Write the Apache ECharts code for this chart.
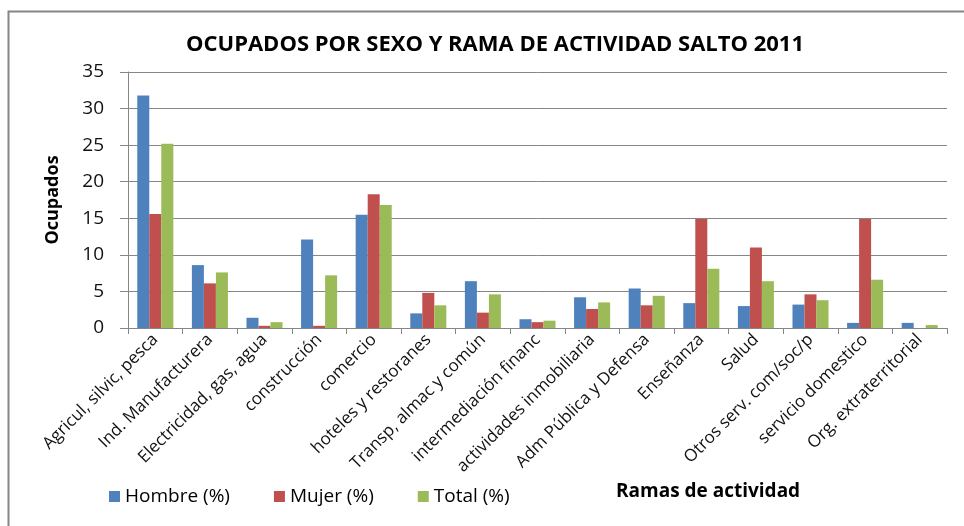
<!DOCTYPE html>
<html>
<head>
<meta charset="utf-8">
<script src="https://cdn.jsdelivr.net/npm/echarts@6/dist/echarts.min.js"></script>
<style>
  html, body { margin: 0; padding: 0; background: #fff; }
  #main { width: 964px; height: 526px; }
</style>
</head>
<body>
<div id="main"></div>
<script>
const categories = [
  'Agricul, silvic, pesca',
  'Ind. Manufacturera',
  'Electricidad, gas, agua',
  'construcción',
  'comercio',
  'hoteles y restoranes',
  'Transp, almac y común',
  'intermediación financ',
  'actividades inmobiliaria',
  'Adm Pública y Defensa',
  'Enseñanza',
  'Salud',
  'Otros serv. com/soc/p',
  'servicio domestico',
  'Org. extraterritorial'
]
const hombre = [31.8, 8.6, 1.4, 12.1, 15.5, 2.0, 6.4, 1.2, 4.2, 5.4, 3.4, 3.0, 3.2, 0.7, 0.7]
const mujer = [15.6, 6.1, 0.3, 0.3, 18.3, 4.8, 2.1, 0.8, 2.6, 3.1, 14.9, 11.0, 4.6, 14.9, 0]
const total = [25.2, 7.6, 0.8, 7.2, 16.8, 3.1, 4.6, 1.0, 3.5, 4.4, 8.1, 6.4, 3.8, 6.6, 0.4]
const yTicks = [0, 5, 10, 15, 20, 25, 30, 35]

let chart = echarts.init(document.getElementById('main'), null, { renderer: 'canvas' })

let font = 'Open Sans, Noto Sans, sans-serif'

let option = {
  backgroundColor: '#fff',
  animation: false,
  color: ['#4F81BD', '#C0504D', '#9BBB59'],
  title: {
    text: 'OCUPADOS POR SEXO Y RAMA DE ACTIVIDAD SALTO 2011',
    left: 490,
    textAlign: 'center',
    top: 29,
    textStyle: { fontFamily: font, fontSize: 22, fontWeight: 'bold', color: '#000' }
  },
  legend: {
    data: ['Hombre (%)', 'Mujer (%)', 'Total (%)'],
    left: 104,
    top: 482,
    icon: 'rect',
    itemWidth: 11,
    itemHeight: 11,
    itemGap: 44,
    textStyle: { fontFamily: font, fontSize: 19, color: '#000' }
  },
  graphic: [
    {
      type: 'rect',
      shape: { x: 8.5, y: 11.5, width: 990, height: 540 },
      style: { fill: 'none', stroke: '#868686', lineWidth: 2 },
      silent: true
    },
    {
      type: 'text',
      left: 616,
      top: 482,
      style: { text: 'Ramas de actividad', font: 'bold 19px ' + font, fill: '#000' }
    }
  ],
  grid: {
    left: 128,
    right: 17,
    top: 72,
    bottom: 198
  },
  xAxis: {
    type: 'category',
    data: categories,
    axisLine: { lineStyle: { color: '#868686', width: 1 } },
    axisTick: { show: true, length: 6, lineStyle: { color: '#868686' } },
    axisLabel: {
      interval: 0,
      rotate: 45,
      margin: 9,
      fontFamily: font,
      fontSize: 17,
      color: '#111'
    }
  },
  yAxis: {
    type: 'value',
    min: 0,
    max: 35,
    interval: 5,
    name: 'Ocupados',
    nameLocation: 'middle',
    nameGap: 66,
    nameRotate: 90,
    nameTextStyle: { fontFamily: font, fontSize: 18, fontWeight: 'bold', color: '#000' },
    axisLine: { show: true, lineStyle: { color: '#868686' } },
    axisTick: { show: true, inside: false, length: 8, lineStyle: { color: '#868686' } },
    axisLabel: {
      margin: 24,
      fontFamily: font,
      fontSize: 19,
      color: '#111',
      formatter: v => (yTicks.includes(v) ? String(v) : '')
    },
    splitLine: { show: true, lineStyle: { color: '#868686', width: 1 } }
  },
  series: [
    { name: 'Hombre (%)', type: 'bar', data: hombre, barGap: '0%', barCategoryGap: '34%' },
    { name: 'Mujer (%)', type: 'bar', data: mujer, barGap: '0%', barCategoryGap: '34%' },
    { name: 'Total (%)', type: 'bar', data: total, barGap: '0%', barCategoryGap: '34%' }
  ]
}

chart.setOption(option)
</script>
</body>
</html>
